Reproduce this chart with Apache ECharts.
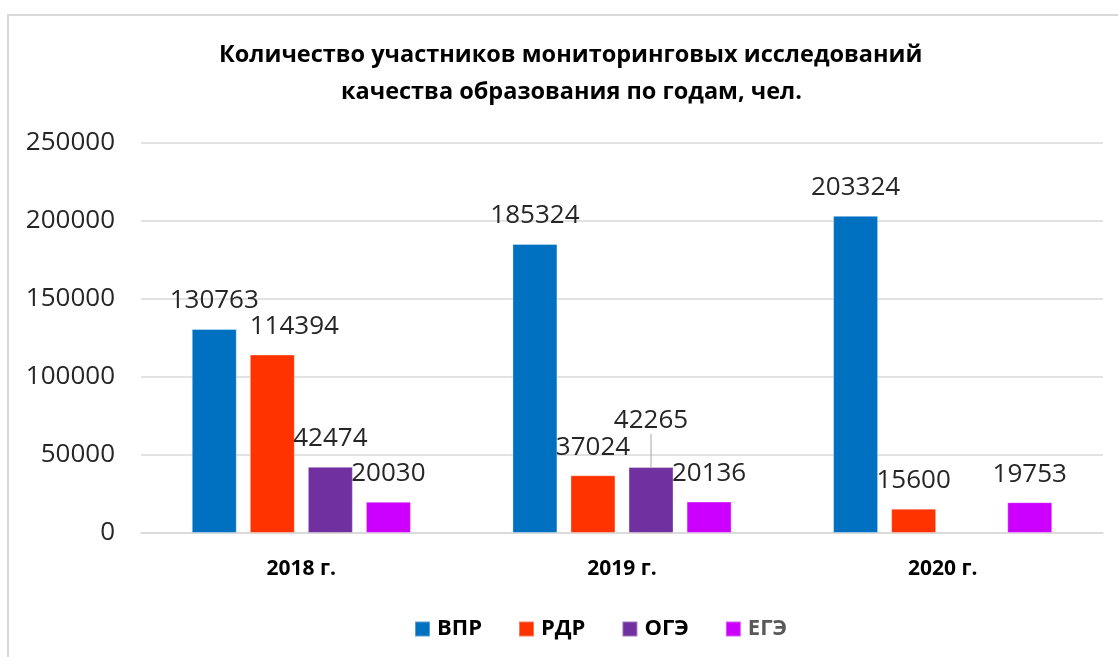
<!DOCTYPE html>
<html>
<head>
<meta charset="utf-8">
<script src="https://cdn.jsdelivr.net/npm/echarts@6/dist/echarts.min.js"></script>
<style>
html,body{margin:0;padding:0;background:#fff;}
#chart{width:1118px;height:657px;}
</style>
</head>
<body>
<div id="chart"></div>
<script>
var titleLines = ['Количество участников мониторинговых исследований', 'качества образования по годам, чел.'];
var categories = ['2018 г.', '2019 г.', '2020 г.'];
var seriesNames = ['ВПР', 'РДР', 'ОГЭ', 'ЕГЭ'];
var vprValues = [130763, 185324, 203324];
var rdrValues = [114394, 37024, 15600];
var ogeValues = [42474, 42265, null];
var egeValues = [20030, 20136, 19753];
var yTicks = [0, 50000, 100000, 150000, 200000, 250000];

var colors = ['#0070C0', '#FF3300', '#7030A0', '#CC00FF'];
var FONT = '"Open Sans", "Liberation Sans", sans-serif';
var TITLE_SIZE = 23.5;

var chart = echarts.init(document.getElementById('chart'));

var cnv = document.createElement('canvas').getContext('2d');
cnv.font = 'bold ' + TITLE_SIZE + 'px ' + FONT;
var titleTops = [36.5, 73.5];
var titles = titleLines.map(function (t, i) {
  var w = cnv.measureText(t).width;
  return {
    text: t,
    left: Math.round(571 - w / 2),
    top: titleTops[i],
    padding: 0,
    textStyle: {
      fontFamily: FONT,
      fontWeight: 'bold',
      fontSize: TITLE_SIZE,
      lineHeight: 37,
      color: '#000000'
    }
  };
});

function makeSeries(name, values, idx) {
  return {
    name: name,
    type: 'bar',
    barWidth: 45,
    barGap: '29%',
    data: values.map(function (v, i) {
      var item = { value: v == null ? '-' : v };
      if (idx === 2 && i === 1) {
        item.labelLine = { show: true, lineStyle: { color: '#a6a6a6', width: 1 } };
      }
      return item;
    }),
    itemStyle: { color: colors[idx], borderColor: 'rgba(255,255,255,0.35)', borderWidth: 1 },
    labelLine: { show: false },
    label: {
      show: true,
      position: 'top',
      distance: 15,
      color: '#262626',
      fontFamily: FONT,
      fontSize: 26,
      lineHeight: 26
    }
  };
}

var option = {
  backgroundColor: '#ffffff',
  animation: false,
  color: colors,
  title: titles,
  graphic: [{
    type: 'rect',
    z: -10,
    silent: true,
    shape: { x: 8, y: 15, width: 1200, height: 800 },
    style: { fill: 'none', stroke: '#d9d9d9', lineWidth: 2 }
  }],
  legend: {
    data: [
      { name: 'ВПР' },
      { name: 'РДР' },
      { name: 'ОГЭ' },
      { name: 'ЕГЭ', textStyle: { color: '#595959' } }
    ],
    left: 409,
    top: 613,
    itemWidth: 15,
    itemHeight: 15,
    itemGap: 36,
    icon: 'rect',
    textStyle: {
      fontFamily: FONT,
      fontWeight: 'bold',
      fontSize: 22,
      color: '#000000',
      padding: [0, 0, 0, 2]
    }
  },
  grid: {
    left: 141,
    right: 15,
    top: 143,
    bottom: 124,
    containLabel: false
  },
  xAxis: {
    type: 'category',
    data: categories,
    axisLine: { show: true, lineStyle: { color: '#d9d9d9', width: 1.5 } },
    axisTick: { show: false },
    axisLabel: {
      margin: 25,
      fontFamily: FONT,
      fontWeight: 'bold',
      fontSize: 21,
      lineHeight: 22,
      color: '#000000'
    }
  },
  yAxis: {
    type: 'value',
    min: yTicks[0],
    max: yTicks[yTicks.length - 1],
    interval: yTicks[1] - yTicks[0],
    axisLine: { show: false },
    axisTick: { show: false },
    splitLine: { show: true, lineStyle: { color: '#d9d9d9', width: 1.5 } },
    axisLabel: {
      margin: 26,
      fontFamily: FONT,
      fontSize: 26,
      color: '#262626',
      formatter: function (v) { return String(v); }
    }
  },
  labelLayout: function (params) {
    if (params.seriesIndex === 1 && params.dataIndex === 0) {
      return { dx: 22 };
    }
    if (params.seriesIndex === 2 && params.dataIndex === 1) {
      return { dy: -18 };
    }
    return {};
  },
  series: [
    makeSeries(seriesNames[0], vprValues, 0),
    makeSeries(seriesNames[1], rdrValues, 1),
    makeSeries(seriesNames[2], ogeValues, 2),
    makeSeries(seriesNames[3], egeValues, 3)
  ]
};

chart.setOption(option);
</script>
</body>
</html>
